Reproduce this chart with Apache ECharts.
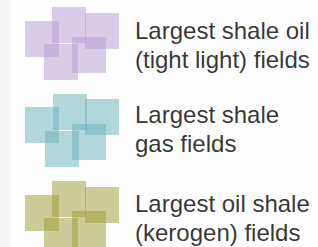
<!DOCTYPE html>
<html>
<head>
<meta charset="utf-8">
<script src="https://cdn.jsdelivr.net/npm/echarts@6/dist/echarts.min.js"></script>
<style>
  html, body { margin: 0; padding: 0; }
  body { background: linear-gradient(to right, #f5f5f5 0, #f5f5f5 10px, #fdfdfd 10px); }
  #chart { width: 318px; height: 247px; }
</style>
</head>
<body>
<div id="chart"></div>
<script>
// legend entries
const categories = [
    'Largest shale oil\n(tight light) fields',
    'Largest shale\ngas fields',
    'Largest oil shale\n(kerogen) fields'
];
const colors = ['rgba(179,155,211,0.5)', 'rgba(105,175,185,0.5)', 'rgba(155,155,53,0.5)'];

// square centres of each icon, in pixel-like axis units
const shaleOilSquares = [[42, 39], [69, 25], [102, 31], [89, 55], [61, 62]];
const shaleGasSquares = [[42, 125], [70, 112], [102, 117], [89, 142], [62, 149]];
const oilShaleSquares = [[42, 213], [69, 199], [102, 205], [89, 229], [61, 236]];
const squares = [shaleOilSquares, shaleGasSquares, oilShaleSquares];

// label anchors
const labelX = [135, 135, 135];
const labelY = [45, 129, 218];

const myChart = echarts.init(document.getElementById('chart'), null, { renderer: 'svg' });
const series = squares.map((pts, i) => ({
    type: 'scatter',
    name: categories[i],
    symbol: 'rect',
    symbolSize: [34, 36],
    itemStyle: { color: colors[i], opacity: 1 },
    silent: true,
    data: pts
}));
series.push({
    type: 'scatter',
    symbolSize: 0,
    silent: true,
    data: categories.map((c, i) => ({ value: [labelX[i], labelY[i]], name: c })),
    label: {
        show: true,
        position: 'right',
        distance: 0,
        formatter: p => p.name,
        fontFamily: "'Liberation Sans'",
        fontSize: 24,
        lineHeight: 29,
        color: '#000'
    }
});

myChart.setOption({
    animation: false,
    grid: { left: 0, right: 0, top: 0, bottom: 0 },
    xAxis: { type: 'value', min: 0, max: 318, show: false },
    yAxis: { type: 'value', min: 0, max: 247, inverse: true, show: false },
    series: series
});
</script>
</body>
</html>
